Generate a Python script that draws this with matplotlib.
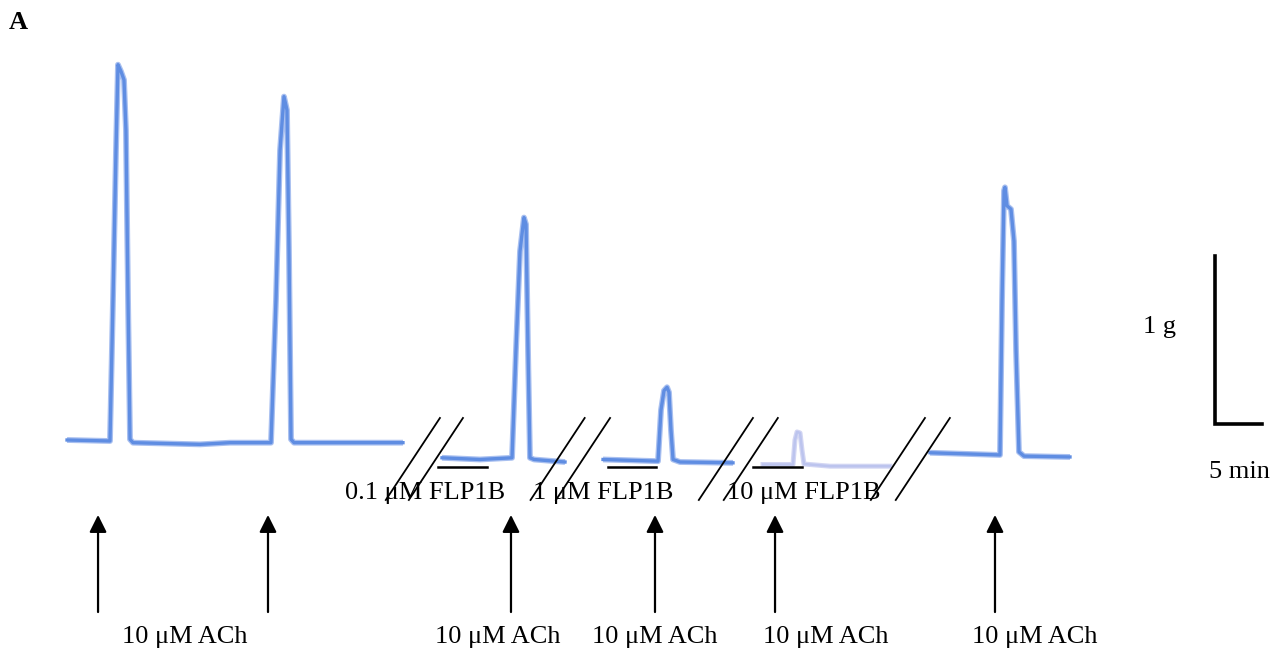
import numpy as np
import matplotlib.pyplot as plt

plt.rcParams['font.family'] = ['Liberation Serif', 'DejaVu Serif']

# Tension traces (time in min, tension in g), one list per recording segment
seg1_t = [7.13, 11.70, 12.02, 12.34, 12.55, 12.87, 13.19, 13.40, 13.62, 13.83, 14.15,
          21.28, 24.47, 28.83, 29.36, 29.79, 30.21, 30.53, 30.74, 30.96, 31.28, 42.87]
seg1_g = [0.006, 0.0, 0.84, 1.73, 2.24, 2.20, 2.15, 1.85, 0.84, 0.01, -0.01,
          -0.02, -0.01, -0.01, 0.84, 1.73, 2.05, 1.97, 1.14, 0.01, -0.01, -0.01]

seg2_t = [47.02, 51.06, 54.47, 54.89, 55.32, 55.74, 55.96, 56.17, 56.38, 56.81, 60.11]
seg2_g = [-0.10, -0.11, -0.10, 0.54, 1.13, 1.33, 1.29, 0.54, -0.10, -0.11, -0.125]

seg3_t = [64.15, 70.00, 70.32, 70.64, 70.96, 71.17, 71.38, 71.60, 72.34, 77.98]
seg3_g = [-0.11, -0.12, 0.185, 0.30, 0.32, 0.29, 0.065, -0.11, -0.125, -0.13]

seg4_t = [81.17, 84.36, 84.57, 84.79, 85.11, 85.32, 85.53, 88.30, 94.68]
seg4_g = [-0.14, -0.14, 0.006, 0.054, 0.048, -0.054, -0.137, -0.15, -0.15]

seg5_t = [98.94, 106.38, 106.60, 106.81, 106.91, 107.13, 107.55, 107.87, 108.09, 108.40, 108.94, 113.83]
seg5_g = [-0.07, -0.083, 0.84, 1.49, 1.51, 1.40, 1.38, 1.19, 0.54, -0.065, -0.09, -0.095]

# FLP1B application bars (start, end in min)
flp_bars = [(46.6, 51.8), (64.7, 69.8), (80.1, 85.3)]
flp_labels = ['0.1 \u03bcM FLP1B', '1 \u03bcM FLP1B', '10 \u03bcM FLP1B']
flp_label_x = [45.2, 64.15, 85.5]

# ACh additions
ach_times = [10.43, 28.51, 54.36, 69.68, 82.45, 105.85]
ach_label = '10 \u03bcM ACh'
ach_label_x = [19.68, 52.98, 69.68, 87.87, 110.1]

# breaks in the recording (top of each slash, min)
break_x = [46.8, 49.25, 62.2, 64.9, 80.1, 82.75, 98.4, 101.05]

fig = plt.figure(figsize=(12.86, 6.55), dpi=100)
ax = fig.add_axes([0, 0, 1, 1])
ax.set_xlim(0, 1286 / 9.4)
ax.set_ylim(-214 / 168, 441 / 168)
ax.axis('off')

blue_halo = '#a9c0f0'
blue_core = '#5f8de2'
for t, g in [(seg1_t, seg1_g), (seg2_t, seg2_g), (seg3_t, seg3_g), (seg5_t, seg5_g)]:
    ax.plot(t, g, color=blue_halo, lw=4.2, solid_capstyle='butt', solid_joinstyle='round')
    ax.plot(t, g, color=blue_core, lw=2.4, solid_joinstyle='round')
# faded segment
ax.plot(seg4_t, seg4_g, color='#d3d6f3', lw=3.6, solid_joinstyle='round')
ax.plot(seg4_t, seg4_g, color='#bcc4ee', lw=1.8, solid_joinstyle='round')

# break slashes
for bx in break_x:
    ax.plot([bx, bx - 0.66 * 82 / 9.4], [0.137, 0.137 - 82 / 168], color='black', lw=1.3)

# drug bars and labels
for (a, b) in flp_bars:
    ax.plot([a, b], [-0.155, -0.155], color='black', lw=1.8)
for lx, lab in zip(flp_label_x, flp_labels):
    ax.text(lx, -0.31, lab, fontsize=19, ha='center', va='center')

# ACh arrows
for t in ach_times:
    ax.annotate('', xy=(t, -0.44), xytext=(t, -1.018),
                arrowprops=dict(arrowstyle='-|>', lw=1.6, color='black',
                                mutation_scale=26, shrinkA=0, shrinkB=0))
for lx in ach_label_x:
    ax.text(lx, -1.167, ach_label, fontsize=19, ha='center', va='center')

# scale bar: 1 g by 5 min
sx, sy = 129.26, 0.101
ax.plot([sx, sx, sx + 5], [sy + 1, sy, sy], color='black', lw=2.6, solid_joinstyle='miter')
ax.text(123.4, 0.68, '1 g', fontsize=19, ha='center', va='center')
ax.text(131.9, -0.185, '5 min', fontsize=19, ha='center', va='center')

ax.text(1.9, 2.49, 'A', fontsize=19, fontweight='bold', ha='center', va='center')

fig.savefig('out.png', dpi=100)
